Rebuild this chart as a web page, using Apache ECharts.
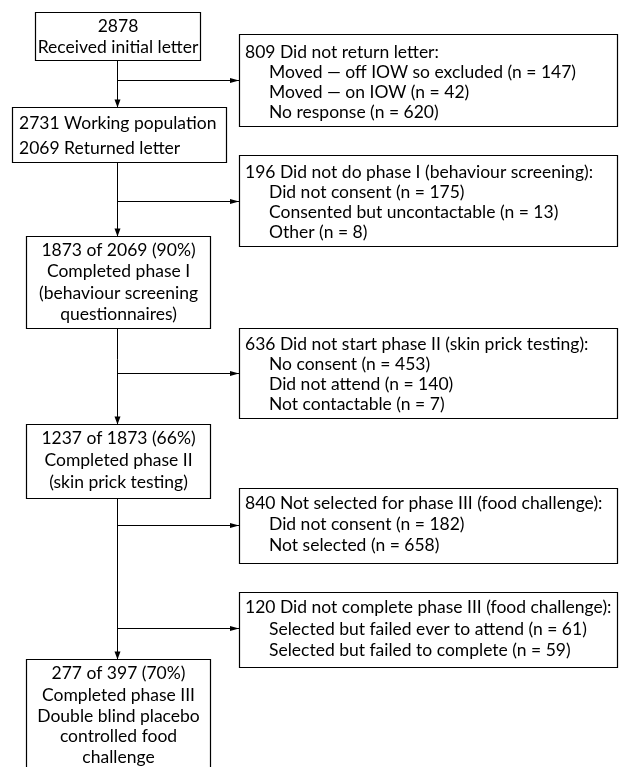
<!DOCTYPE html>
<html>
<head>
<meta charset="utf-8">
<script src="https://cdn.jsdelivr.net/npm/echarts@6/dist/echarts.min.js"></script>
<style>html,body{margin:0;padding:0;background:#fff;}#c{width:619px;height:767px;}</style>
</head>
<body>
<div id="c"></div>
<script>
// ---- data ----
const mainBoxLines = [
  ['2878', 'Received initial letter'],
  ['2731 Working population', '2069 Returned letter'],
  ['1873 of 2069 (90%)', 'Completed phase I', '(behaviour screening', 'questionnaires)'],
  ['1237 of 1873 (66%)', 'Completed phase II', '(skin prick testing)'],
  ['277 of 397 (70%)', 'Completed phase III', 'Double blind placebo', 'controlled food', 'challenge']
];
const exclusionHeads = [
  '809 Did not return letter:',
  '196 Did not do phase I (behaviour screening):',
  '636 Did not start phase II (skin prick testing):',
  '840 Not selected for phase III (food challenge):',
  '120 Did not complete phase III (food challenge):'
];
const exclusionItems = [
  ['Moved \u2014 off IOW so excluded (n = 147)', 'Moved \u2014 on IOW (n = 42)', 'No response (n = 620)'],
  ['Did not consent (n = 175)', 'Consented but uncontactable (n = 13)', 'Other (n = 8)'],
  ['No consent (n = 453)', 'Did not attend (n = 140)', 'Not contactable (n = 7)'],
  ['Did not consent (n = 182)', 'Not selected (n = 658)'],
  ['Selected but failed ever to attend (n = 61)', 'Selected but failed to complete (n = 59)']
];

// ---- layout ----
const FONT = '17.5px Lato';
const mainLayout = [
  {x: 35, y: 12, w: 165, h: 48, lines: [26, 47], align: 'center'},
  {x: 12, y: 107, w: 214, h: 55, lines: [123, 148], align: 'left'},
  {x: 26, y: 236, w: 184, h: 92, lines: [250, 271, 293, 314], align: 'center'},
  {x: 26, y: 424, w: 184, h: 74, lines: [438, 460, 482], align: 'center'},
  {x: 26, y: 659, w: 184, h: 130, lines: [673, 695, 716, 736, 757], align: 'center'}
];
const exLayout = [
  {y: 34, h: 92, arrow: 80, lines: [52, 72, 92, 112]},
  {y: 155, h: 91, arrow: 201, lines: [172, 192, 212, 232]},
  {y: 328, h: 90, arrow: 373, lines: [344, 364, 384, 404]},
  {y: 488, h: 75, arrow: 525, lines: [503, 524, 545]},
  {y: 592, h: 75, arrow: 628, lines: [607, 629, 650]}
];
const EX_X = 239, EX_R = 617, SPINE = 117.5;

const g = [];
function rect(x, y, w, h) {
  g.push({type: 'rect', shape: {x: x + 0.5, y: y + 0.5, width: w, height: h},
    style: {fill: '#fff', stroke: '#000', lineWidth: 1.2}, z: 1});
}
function text(t, x, y, align) {
  g.push({type: 'text', x: x, y: y, style: {text: t, font: FONT, fill: '#000',
    textAlign: align, textVerticalAlign: 'middle'}, z: 3});
}
function line(x1, y1, x2, y2) {
  g.push({type: 'line', shape: {x1: x1, y1: y1, x2: x2, y2: y2},
    style: {stroke: '#000', lineWidth: 1}, z: 0});
}
function arrowDown(x, y) {
  g.push({type: 'polygon', shape: {points: [[x - 3, y - 8], [x + 3, y - 8], [x, y]]},
    style: {fill: '#000'}, z: 2});
}
function arrowRight(x, y) {
  g.push({type: 'polygon', shape: {points: [[x - 9, y - 2.5], [x - 9, y + 2.5], [x, y]]},
    style: {fill: '#000'}, z: 2});
}

// spine
line(SPINE, mainLayout[0].y + mainLayout[0].h, SPINE, mainLayout[4].y);
mainLayout.forEach((b, i) => {
  rect(b.x, b.y, b.w, b.h);
  if (i > 0) arrowDown(SPINE, b.y + 0.5);
  mainBoxLines[i].forEach((t, j) => {
    if (b.align === 'center') text(t, b.x + b.w / 2 + 0.5, b.lines[j], 'center');
    else text(t, b.x + 7, b.lines[j], 'left');
  });
});
exLayout.forEach((b, i) => {
  rect(EX_X, b.y, EX_R - EX_X, b.h);
  line(SPINE, b.arrow + 0.5, EX_X, b.arrow + 0.5);
  arrowRight(EX_X, b.arrow + 0.5);
  text(exclusionHeads[i], EX_X + 6, b.lines[0], 'left');
  exclusionItems[i].forEach((t, j) => text(t, EX_X + 30, b.lines[j + 1], 'left'));
});

const chart = echarts.init(document.getElementById('c'), null, {renderer: 'canvas'});
chart.setOption({animation: false, backgroundColor: '#fff', graphic: {elements: g}});
</script>
</body>
</html>
